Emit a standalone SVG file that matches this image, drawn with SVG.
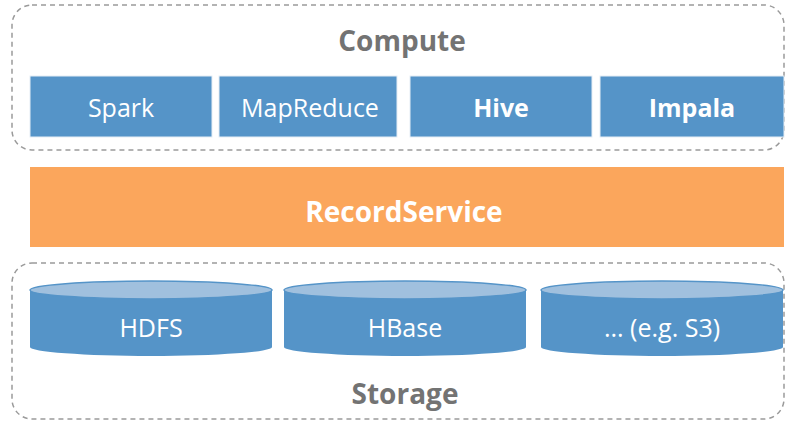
<svg xmlns="http://www.w3.org/2000/svg" width="786" height="423" viewBox="0 0 786 423">
<style>
.grp{fill:none;stroke:#9a9a9a;stroke-width:1.5;stroke-dasharray:5 4}
.box{fill:#5594c8;stroke:#e6eef6;stroke-width:1}
.lbl{font-family:"Open Sans","Liberation Sans",sans-serif;font-size:25px;fill:#ffffff;text-anchor:middle}
.b{font-weight:bold}
.big{font-size:28px}
.title{font-family:"Open Sans","Liberation Sans",sans-serif;font-size:28px;font-weight:bold;fill:#737373;text-anchor:middle}
.cyl{fill:#5594c8}
.top{fill:#a0c0de;stroke:#5594c8;stroke-width:1.5}
</style>
<rect width="786" height="423" fill="#ffffff"/>
<g id="compute">
<rect class="grp" x="12" y="5" width="772" height="145" rx="20"/>
<text class="title" x="402" y="51">Compute</text>
</g>
<g id="spark"><rect class="box" x="30" y="76" width="182" height="61"/><text class="lbl" x="121" y="117">Spark</text></g>
<g id="mapreduce"><rect class="box" x="219" y="76" width="178" height="61"/><text class="lbl" x="310" y="117">MapReduce</text></g>
<g id="hive"><rect class="box" x="410" y="76" width="182" height="61"/><text class="lbl b" x="501" y="117">Hive</text></g>
<g id="impala"><rect class="box" x="600" y="76" width="184" height="61"/><text class="lbl b" x="692" y="117">Impala</text></g>
<g id="recordservice"><rect x="30" y="167" width="754" height="80" fill="#fba65c"/><text class="lbl b big" x="404" y="222">RecordService</text></g>
<g id="storage">
<rect class="grp" x="12" y="263" width="772" height="156" rx="20"/>
<text class="title" x="405" y="404">Storage</text>
</g>
<g id="hdfs">
<path class="cyl" d="M30 290 V347 A121 9 0 0 0 272 347 V290 Z"/>
<ellipse class="top" cx="151" cy="290" rx="121" ry="9"/>
<text class="lbl" x="151" y="337">HDFS</text>
</g>
<g id="hbase">
<path class="cyl" d="M284 290 V347 A121 9 0 0 0 526 347 V290 Z"/>
<ellipse class="top" cx="405" cy="290" rx="121" ry="9"/>
<text class="lbl" x="405" y="337">HBase</text>
</g>
<g id="other">
<path class="cyl" d="M541 290 V347 A121 9 0 0 0 783 347 V290 Z"/>
<ellipse class="top" cx="662" cy="290" rx="121" ry="9"/>
<text class="lbl" x="662" y="337">... (e.g. S3)</text>
</g>
<g id="connectors"/>
</svg>
